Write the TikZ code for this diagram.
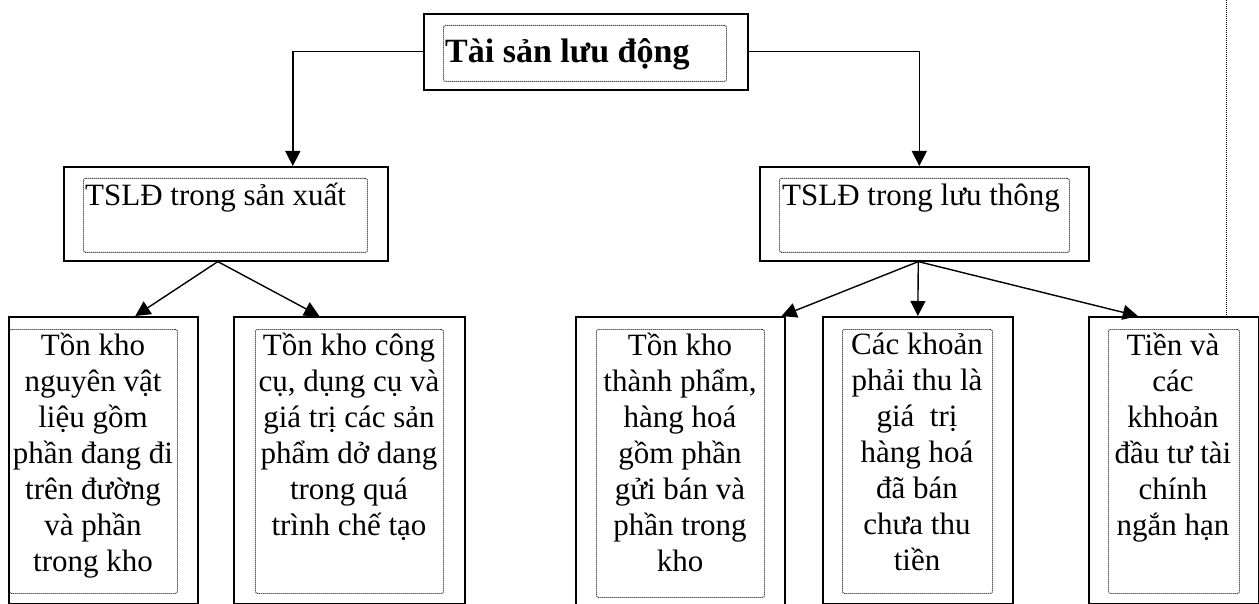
\documentclass[tikz,border=0pt]{standalone}
\usepackage{fontspec}
\setmainfont{Liberation Serif}
\usetikzlibrary{arrows.meta}

\begin{document}
\begin{tikzpicture}[x=1pt,y=-1pt,>={Triangle[length=15pt,width=15pt]},
    outerbox/.style={draw,line width=1.6pt,inner sep=0pt,anchor=north west},
    dotbox/.style={draw,line width=0.9pt,dash pattern=on 1pt off 1pt,rounded corners=2pt,inner sep=0pt,anchor=north west},
    bodytext/.style={align=center,inner sep=0pt,anchor=north,font=\fontsize{31}{36}\selectfont},
    headtext/.style={inner sep=0pt,anchor=base west,font=\fontsize{31}{36}\selectfont},
    link/.style={->,line width=1.4pt}]
            \useasboundingbox (0,0) rectangle (1259,604);

            % the top box
            \node[outerbox,minimum width=324pt,minimum height=76pt] (tsld) at (423,13) {};
            \node[dotbox,minimum width=283pt,minimum height=56pt] (tsld-in) at (443,25) {};
            \node[headtext,font=\bfseries\fontsize{34}{36}\selectfont] (tsld-txt) at (445,63) {Tài sản lưu động};

            % the two groups
            \node[outerbox,minimum width=324pt,minimum height=94pt] (sx) at (63,166) {};
            \node[dotbox,minimum width=284pt,minimum height=74pt] (sx-in) at (83,178) {};
            \node[headtext] (sx-txt) at (85,206) {TSLĐ trong sản xuất};

            \node[outerbox,minimum width=329pt,minimum height=94pt] (lt) at (759,166) {};
            \node[dotbox,minimum width=290pt,minimum height=74pt] (lt-in) at (779,178) {};
            \node[headtext] (lt-txt) at (782,206) {TSLĐ trong lưu thông};

            % the five boxes at the bottom
            \node[outerbox,minimum width=189pt,minimum height=287pt] (nvl) at (8,316) {};
            \node[dotbox,minimum width=168pt,minimum height=264pt] (nvl-in) at (9,329) {};
            \node[bodytext] (nvl-txt) at (93,333) {Tồn kho\\nguyên vật\\liệu gồm\\phần đang đi\\trên đường\\và phần\\trong kho};

            \node[outerbox,minimum width=231pt,minimum height=287pt] (ccdc) at (233,316) {};
            \node[dotbox,minimum width=188pt,minimum height=264pt] (ccdc-in) at (255,329) {};
            \node[bodytext] (ccdc-txt) at (349,333) {Tồn kho công\\cụ, dụng cụ và\\giá trị các sản\\phẩm dở dang\\trong quá\\trình chế tạo};

            \node[outerbox,minimum width=209pt,minimum height=290pt] (tp) at (575,316) {};
            \node[dotbox,minimum width=168pt,minimum height=268pt] (tp-in) at (596,329) {};
            \node[bodytext] (tp-txt) at (680,333) {Tồn kho\\thành phẩm,\\hàng hoá\\gồm phần\\gửi bán và\\phần trong\\kho};

            \node[outerbox,minimum width=190pt,minimum height=287pt] (pt) at (822,316) {};
            \node[dotbox,minimum width=150pt,minimum height=264pt] (pt-in) at (842,329) {};
            \node[bodytext] (pt-txt) at (917,333) {Các khoản\\phải thu là\\giá~ trị\\hàng hoá\\đã bán\\chưa thu\\tiền};

            \node[outerbox,minimum width=170pt,minimum height=287pt] (tien) at (1088,316) {};
            \node[dotbox,minimum width=131pt,minimum height=264pt] (tien-in) at (1108,329) {};
            \node[bodytext] (tien-txt) at (1173,333) {Tiền và\\các\\khhoản\\đầu tư tài\\chính\\ngắn hạn};

            % arrows from the top box
            \draw[link] (tsld.west) -| ([xshift=67pt]sx.north);
            \draw[link] (tsld.east) -| ([xshift=-5pt]lt.north);

            % arrows to the bottom boxes
            \draw[link] ([xshift=-8pt]sx.south) -- ([xshift=32pt]nvl.north);
            \draw[link] ([xshift=-8pt]sx.south) -- ([xshift=-30pt]ccdc.north);
            \draw[link] ([xshift=-6pt]lt.south) -- ([xshift=-4pt]tp.north east);
            \draw[link] ([xshift=-6pt]lt.south) -- (pt.north);
            \draw[link] ([xshift=-6pt]lt.south) -- ([xshift=-36pt]tien.north);

            % dotted line at the right edge
            \coordinate (edge) at (1226,0);
            \draw[line width=1pt,dash pattern=on 1pt off 1pt] (edge) -- (edge |- tien.north);
        \end{tikzpicture}
\end{document}
